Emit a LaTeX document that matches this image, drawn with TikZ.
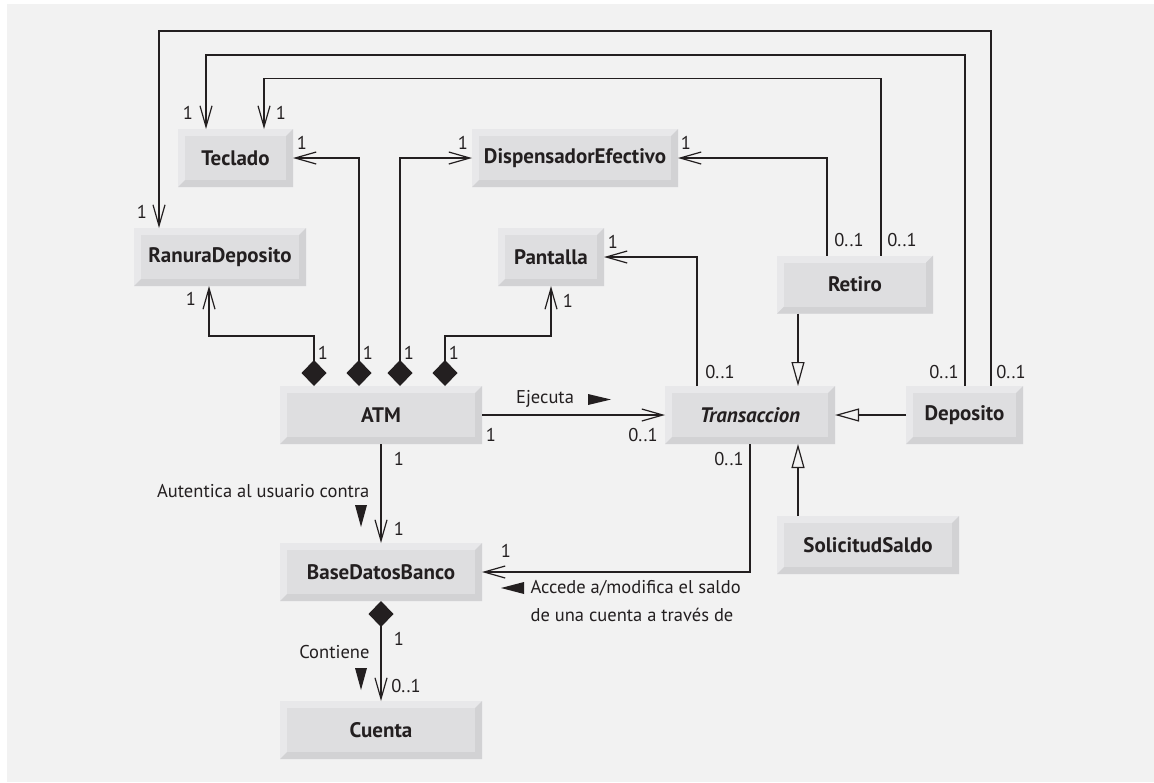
\documentclass[tikz,border=0pt]{standalone}
\usepackage{fontspec}
\setmainfont{PT Sans}
\usetikzlibrary{arrows.meta}
\definecolor{bg}{HTML}{F2F2F2}
\definecolor{ink}{HTML}{231F20}
\definecolor{boxlight}{HTML}{E8E8EA}
\definecolor{boxface}{HTML}{DEDEE0}
\definecolor{boxdark}{HTML}{D2D2D4}
\begin{document}
\begin{tikzpicture}[x=1pt,y=-1pt,
  line width=1.2pt, draw=ink, text=ink,
  cls/.style={fill=boxlight, inner sep=0pt, outer sep=0pt,
    minimum width=#1, minimum height=58pt,
    font=\fontsize{21}{24}\selectfont\bfseries,
    path picture={
      \fill[boxdark] (path picture bounding box.south west)
        -- (path picture bounding box.south east)
        -- (path picture bounding box.north east)
        -- ([xshift=-7pt,yshift=-7pt]path picture bounding box.north east)
        -- ([xshift=-7pt,yshift=7pt]path picture bounding box.south east)
        -- ([xshift=7pt,yshift=7pt]path picture bounding box.south west) -- cycle;
      \fill[boxface] ([xshift=7pt,yshift=7pt]path picture bounding box.south west)
        rectangle ([xshift=-7pt,yshift=-7pt]path picture bounding box.north east);
    }},
  mult/.style={font=\fontsize{18.5}{22}\selectfont, inner sep=0pt},
  role/.style={font=\fontsize{18.5}{22}\selectfont, inner sep=0pt},
  nav/.style={-{Straight Barb[length=21pt,width=12pt]}},
  has/.style={{Diamond[length=26pt,width=25pt]}-{Straight Barb[length=21pt,width=12pt]}},
  isa/.style={-{Triangle[length=24pt,width=13pt,fill=bg]}}]
\useasboundingbox (0,0) rectangle (1154,782);
\fill[bg] (7,4) rectangle (1154,782);

% classes
\node[cls=115pt] (teclado) at (235.5,158) {Teclado};
\node[cls=206pt] (dispensador) at (575,158) {DispensadorEfectivo};
\node[cls=172pt] (ranura) at (220,257) {RanuraDeposito};
\node[cls=106pt] (pantalla) at (551,257) {Pantalla};
\node[cls=156pt] (retiro) at (855,284.5) {Retiro};
\node[cls=202pt] (atm) at (381,415) {ATM};
\node[cls=170pt, font=\fontsize{21}{24}\selectfont\bfseries\itshape] (transaccion) at (750,415) {Transaccion};
\node[cls=117pt] (deposito) at (964.5,415) {Deposito};
\node[cls=182pt] (solicitud) at (868,545) {SolicitudSaldo};
\node[cls=202pt] (bdb) at (381,572) {BaseDatosBanco};
\node[cls=202pt] (cuenta) at (381,730) {Cuenta};

% ATM parts
\draw[has] ([xshift=-67pt]atm.north) -- ++(0,-50) -| ([xshift=-11pt]ranura.south);
\draw[has] ([xshift=-22pt]atm.north) |- (teclado.east);
\draw[has] ([xshift=19pt]atm.north) |- (dispensador.west);
\draw[has] ([xshift=64pt]atm.north) -- ++(0,-50) -| (pantalla.south);
\draw[has] (bdb.south) -- (cuenta.north);

% associations
\draw[nav] (atm.east) -- (transaccion.west);
\draw[nav] (atm.south) -- (bdb.north);
\draw[nav] (transaccion.south) |- (bdb.east);
\draw[nav] ([xshift=-53pt]transaccion.north) |- (pantalla.east);
\draw[nav] ([xshift=-28pt]retiro.north) |- (dispensador.east);
\draw[nav] ([xshift=26pt]retiro.north) -- ++(0,-177) -| ([xshift=28.5pt]teclado.north);
\draw[nav] ([xshift=0.5pt]deposito.north) -- ++(0,-331) -| ([xshift=-29.5pt]teclado.north);
\draw[nav] ([xshift=26.5pt]deposito.north) -- ++(0,-355) -| ([xshift=-61pt]ranura.north);

% generalization
\draw[isa] ([xshift=-57pt]retiro.south) -- ([xshift=48pt]transaccion.north);
\draw[isa] (deposito.west) -- (transaccion.east);
\draw[isa] ([xshift=-70pt]solicitud.north) -- ([xshift=48pt]transaccion.south);

% multiplicities
\node[mult] (m1) at (142,212) {1};
\node[mult] (m2) at (188,113) {1};
\node[mult] (m3) at (281,113) {1};
\node[mult] (m4) at (302,143) {1};
\node[mult] (m5) at (463,143) {1};
\node[mult] (m6) at (686,143) {1};
\node[mult] (m7) at (613,242) {1};
\node[mult] (m8) at (568,301) {1};
\node[mult] (m9) at (191,299) {1};
\node[mult] (m10) at (323,353) {1};
\node[mult] (m11) at (368,353) {1};
\node[mult] (m12) at (409,353) {1};
\node[mult] (m13) at (454,353) {1};
\node[mult] (m14) at (849,240) {0..1};
\node[mult] (m15) at (902,240) {0..1};
\node[mult] (m16) at (720,372) {0..1};
\node[mult] (m17) at (944,372) {0..1};
\node[mult] (m18) at (1011,372) {0..1};
\node[mult] (m19) at (491,435) {1};
\node[mult] (m20) at (643,435) {0..1};
\node[mult] (m21) at (729,459) {0..1};
\node[mult] (m22) at (399,459) {1};
\node[mult] (m23) at (399,529) {1};
\node[mult] (m24) at (506,551) {1};
\node[mult] (m25) at (399,639) {1};
\node[mult] (m26) at (406,686) {0..1};

% role names
\node[role] (ejecuta) at (545,399) {Ejecuta};
\fill[ink] (588,394) -- (611,399.5) -- (588,405) -- cycle;
\node[role, anchor=east] (autentica) at (370,491) {Autentica al usuario contra};
\fill[ink] (355,505) -- (367,505) -- (361,527) -- cycle;
\fill[ink] (524,582) -- (524,594) -- (501,588) -- cycle;
\node[role, anchor=west] (accede) at (530,588) {Accede a/modifica el saldo};
\node[role, anchor=west] (accede2) at (530,615) {de una cuenta a través de};
\node[role, anchor=east] (contiene) at (370,652) {Contiene};
\fill[ink] (355,668) -- (367,668) -- (361,690) -- cycle;
\end{tikzpicture}
\end{document}
